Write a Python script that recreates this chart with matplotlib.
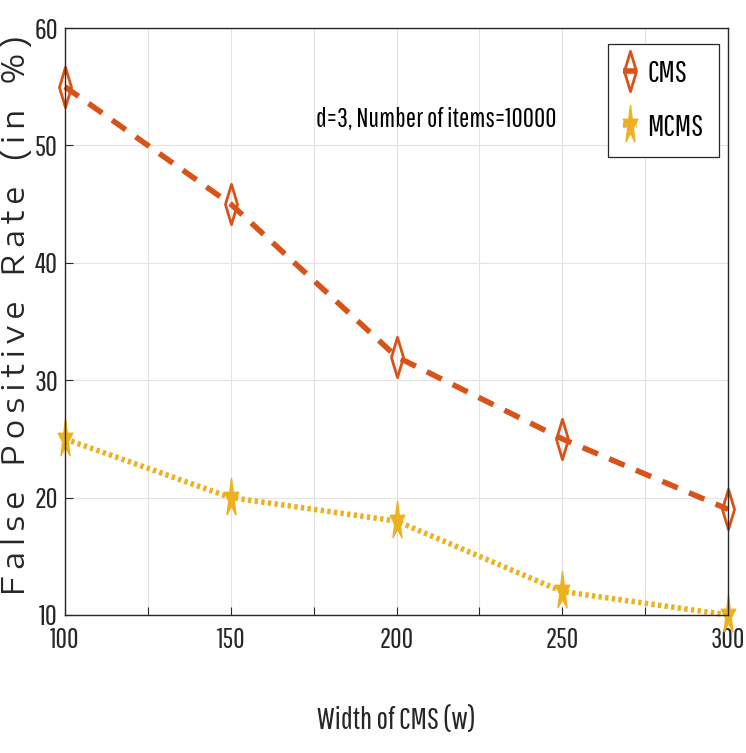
import matplotlib
matplotlib.use('Agg')
import matplotlib.pyplot as plt
from matplotlib.path import Path
import numpy as np

# --- data ---
widths = [100, 150, 200, 250, 300]
cms_fpr = [55, 45, 32, 25, 19]
mcms_fpr = [25, 20, 18, 12, 10]

x_ticks = [100, 125, 150, 175, 200, 225, 250, 275, 300]
x_tick_labels = ['100', '', '150', '', '200', '', '250', '', '300']
y_ticks = [10, 20, 30, 40, 50, 60]

CMS_COLOR = '#D95319'
MCMS_COLOR = '#EDB120'
TEXT_COLOR = '#262626'
NARROW = ['Pathway Gothic One', 'DejaVu Sans']
WIDE = ['Encode Sans Expanded', 'Liberation Sans', 'DejaVu Sans']

# tall, narrow markers (the original figure is squeezed sideways)
diamond = Path([(0, 1), (0.3, 0), (0, -1), (-0.3, 0), (0, 1)],
               [Path.MOVETO, Path.LINETO, Path.LINETO, Path.LINETO, Path.CLOSEPOLY])
ang = np.pi / 2 + np.arange(10) * np.pi / 5
rad = np.where(np.arange(10) % 2 == 0, 1.0, 0.382)
star_pts = [(0.38 * r * np.cos(a), r * np.sin(a)) for r, a in zip(rad, ang)]
star = Path(star_pts + [star_pts[0]],
            [Path.MOVETO] + [Path.LINETO] * 9 + [Path.CLOSEPOLY])

fig = plt.figure(figsize=(7.46, 7.53), dpi=100)
ax = fig.add_axes([0.0871, 0.1833, 0.8889, 0.7795])

ax.plot(widths, cms_fpr, linestyle=(0, (3, 2.2)), linewidth=4, color=CMS_COLOR,
        marker=diamond, markersize=29, markerfacecolor='none',
        markeredgecolor=CMS_COLOR, markeredgewidth=2.0, label='CMS', clip_on=False)
ax.plot(widths, mcms_fpr, linestyle=(0, (0.6, 0.6)), linewidth=4, color=MCMS_COLOR,
        marker=star, markersize=29, markerfacecolor=MCMS_COLOR,
        markeredgecolor=MCMS_COLOR, label='MCMS', clip_on=False)

ax.set_xlim(100, 300)
ax.set_ylim(10, 60)
ax.set_xticks(x_ticks)
ax.set_xticklabels(x_tick_labels, family=NARROW, fontsize=20, color=TEXT_COLOR)
ax.set_yticks(y_ticks)
ax.set_yticklabels([str(v) for v in y_ticks], family=NARROW, fontsize=21, color=TEXT_COLOR)
ax.tick_params(axis='x', direction='in', length=6, width=0.8, color=TEXT_COLOR, pad=9)
ax.tick_params(axis='y', direction='in', length=6, width=0.8, color=TEXT_COLOR, pad=5)
ax.grid(True, color='#e3e3e3', linewidth=0.8)
ax.set_axisbelow(True)
for s in ax.spines.values():
    s.set_color(TEXT_COLOR)
    s.set_linewidth(1.0)

ax.set_xlabel('Width of CMS (w)', family=NARROW, fontsize=22, color=TEXT_COLOR)
ax.xaxis.set_label_coords(0.5, -0.155)
# wide letter spacing as in the original label
ylab = '\u2009'.join('False Positive Rate (in %)').replace('\u2009 \u2009', '   ')
ax.set_ylabel(ylab, family=WIDE, fontsize=22, color=TEXT_COLOR)
ax.yaxis.set_label_coords(-0.05, 0.51)

ax.text(212, 52.2, 'd=3, Number of items=10000', family=NARROW, fontsize=19.5,
        ha='center', va='center', color='black')

leg = ax.legend(loc='upper right', bbox_to_anchor=(0.986, 0.973),
                prop={'family': NARROW, 'size': 22},
                handlelength=0.45, handletextpad=0.35, borderpad=0.5, labelspacing=0.8,
                borderaxespad=0, fancybox=False, framealpha=1, edgecolor=TEXT_COLOR)
leg.get_frame().set_linewidth(0.9)

fig.savefig('out.png', dpi=100)
